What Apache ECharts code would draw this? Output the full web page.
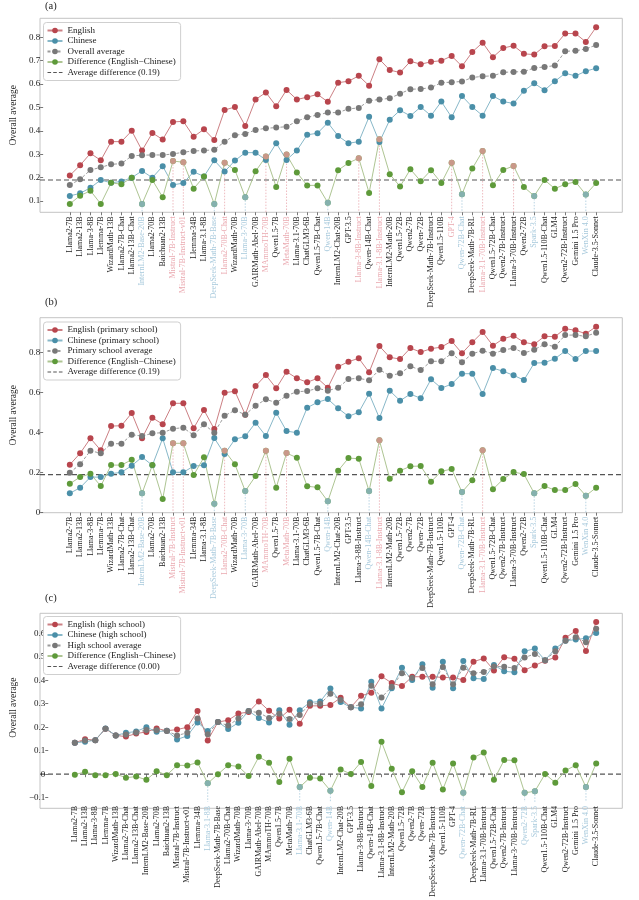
<!DOCTYPE html>
<html><head><meta charset="utf-8">
<script src="https://cdn.jsdelivr.net/npm/echarts@6.0.0/dist/echarts.min.js"></script>
<style>html,body{margin:0;padding:0;background:#fff}#c{width:639px;height:900px}</style>
</head><body><div id="c"></div>
<script>
const models = ["Llama2-7B","Llama2-13B","Llama-3-8B","Llemma-7B","WizardMath-13B","Llama2-7B-Chat","Llama2-13B-Chat","InternLM2-Base-20B","Llama2-70B","Baichuan2-13B","Mistral-7B-Instruct","Mistral-7B-Instruct-v01","Llemma-34B","Llama-3.1-8B","DeepSeek-Math-7B-Base","Llama2-70B-Chat","WizardMath-70B","Llama-3-70B","GAIRMath-Abel-70B","MAmmoTH-70B","Qwen1.5-7B","MetaMath-70B","Llama-3.1-70B","ChatGLM3-6B","Qwen1.5-7B-Chat","Qwen-14B","InternLM2-Chat-20B","GPT-3.5","Llama-3-8B-Instruct","Qwen-14B-Chat","Llama-3.1-8B-Instruct","InternLM2-Math-20B","Qwen1.5-72B","Qwen2-7B","Qwen-72B","DeepSeek-Math-7B-Instruct","Qwen1.5-110B","GPT-4","Qwen-72B-Chat","DeepSeek-Math-7B-RL","Llama-3.1-70B-Instruct","Qwen1.5-72B-Chat","Qwen2-7B-Instruct","Llama-3-70B-Instruct","Qwen2-72B","Spark-3.5","Qwen1.5-110B-Chat","GLM4","Qwen2-72B-Instruct","Gemini 1.5 Pro","WenXin 4.0","Claude-3.5-Sonnet"];

// ---- Panel (a): overall ----
const englishA = [0.209,0.253,0.304,0.274,0.354,0.354,0.400,0.316,0.391,0.363,0.438,0.441,0.375,0.407,0.361,0.489,0.502,0.421,0.534,0.564,0.505,0.575,0.534,0.544,0.556,0.524,0.606,0.612,0.635,0.593,0.706,0.660,0.649,0.697,0.685,0.695,0.700,0.720,0.676,0.737,0.777,0.715,0.754,0.764,0.729,0.726,0.762,0.763,0.816,0.816,0.780,0.843];
const chineseA = [0.122,0.133,0.157,0.190,0.178,0.184,0.200,0.229,0.200,0.249,0.169,0.177,0.225,0.205,0.274,0.226,0.273,0.307,0.307,0.276,0.347,0.276,0.316,0.383,0.390,0.435,0.378,0.347,0.354,0.460,0.352,0.447,0.488,0.464,0.502,0.465,0.525,0.458,0.549,0.502,0.465,0.549,0.525,0.517,0.571,0.603,0.574,0.612,0.646,0.635,0.655,0.668];
const averageA = [0.169,0.193,0.233,0.244,0.257,0.260,0.293,0.296,0.297,0.297,0.301,0.309,0.314,0.316,0.319,0.354,0.381,0.387,0.404,0.411,0.414,0.418,0.441,0.458,0.468,0.478,0.478,0.494,0.498,0.529,0.534,0.539,0.559,0.578,0.579,0.585,0.606,0.608,0.611,0.628,0.633,0.635,0.650,0.652,0.653,0.669,0.673,0.679,0.740,0.742,0.750,0.767];
const diffA = [0.088,0.123,0.144,0.088,0.178,0.172,0.200,0.088,0.190,0.116,0.271,0.266,0.153,0.205,0.088,0.264,0.233,0.116,0.227,0.290,0.160,0.299,0.222,0.167,0.167,0.093,0.232,0.263,0.283,0.135,0.364,0.215,0.162,0.236,0.185,0.232,0.177,0.264,0.129,0.239,0.314,0.168,0.233,0.250,0.160,0.122,0.190,0.153,0.172,0.182,0.128,0.177];
const avgDiffA = 0.19;
const highPosA = ["Mistral-7B-Instruct","Mistral-7B-Instruct-v01","Llama2-70B-Chat","MAmmoTH-70B","MetaMath-70B","Llama-3-8B-Instruct","Llama-3.1-8B-Instruct","GPT-4","Llama-3.1-70B-Instruct","Llama-3-70B-Instruct"];
const highNegA = ["InternLM2-Base-20B","DeepSeek-Math-7B-Base","Llama-3-70B","Qwen-14B","Qwen-72B-Chat","Spark-3.5","WenXin 4.0"];
const labelPosA = ["Mistral-7B-Instruct","Mistral-7B-Instruct-v01","Llama2-70B-Chat","MAmmoTH-70B","MetaMath-70B","Llama-3-8B-Instruct","Llama-3.1-8B-Instruct","GPT-4","Llama-3.1-70B-Instruct"];
const labelNegA = highNegA;

// ---- Panel (b): primary school ----
const englishB = [0.240,0.297,0.372,0.312,0.433,0.435,0.498,0.372,0.475,0.442,0.547,0.547,0.422,0.513,0.418,0.600,0.607,0.490,0.633,0.688,0.622,0.705,0.672,0.652,0.672,0.625,0.730,0.755,0.772,0.702,0.833,0.777,0.768,0.823,0.803,0.820,0.828,0.858,0.797,0.852,0.903,0.835,0.870,0.885,0.852,0.842,0.882,0.880,0.920,0.912,0.895,0.930];
const chineseB = [0.097,0.125,0.178,0.178,0.195,0.202,0.235,0.278,0.237,0.372,0.202,0.202,0.233,0.237,0.373,0.293,0.367,0.382,0.450,0.383,0.500,0.408,0.400,0.525,0.552,0.568,0.522,0.482,0.502,0.595,0.473,0.610,0.560,0.593,0.572,0.667,0.623,0.643,0.695,0.695,0.593,0.723,0.707,0.687,0.663,0.748,0.750,0.770,0.808,0.768,0.808,0.808];
const averageB = [0.200,0.242,0.310,0.297,0.345,0.345,0.390,0.383,0.397,0.400,0.420,0.425,0.387,0.442,0.400,0.485,0.512,0.490,0.535,0.567,0.550,0.585,0.605,0.608,0.622,0.610,0.625,0.668,0.672,0.662,0.715,0.685,0.697,0.732,0.713,0.757,0.757,0.797,0.752,0.795,0.810,0.795,0.813,0.823,0.798,0.815,0.842,0.830,0.888,0.888,0.882,0.900];
const diffB = [0.145,0.178,0.195,0.133,0.238,0.238,0.265,0.097,0.238,0.068,0.347,0.347,0.188,0.277,0.045,0.310,0.242,0.108,0.183,0.310,0.125,0.298,0.275,0.132,0.127,0.057,0.210,0.273,0.270,0.108,0.362,0.170,0.210,0.232,0.233,0.155,0.207,0.218,0.103,0.162,0.312,0.117,0.168,0.203,0.193,0.097,0.133,0.113,0.113,0.143,0.085,0.125];
const avgDiffB = 0.19;
const highPosB = ["Mistral-7B-Instruct","Mistral-7B-Instruct-v01","Llama2-70B-Chat","MAmmoTH-70B","MetaMath-70B","Llama-3.1-8B-Instruct","Llama-3.1-70B-Instruct"];
const highNegB = ["InternLM2-Base-20B","DeepSeek-Math-7B-Base","Llama-3-70B","Qwen-14B","Qwen-14B-Chat","Qwen-72B-Chat","Spark-3.5","WenXin 4.0"];

// ---- Panel (c): high school ----
const englishC = [0.134,0.149,0.145,0.193,0.165,0.160,0.173,0.180,0.195,0.185,0.190,0.200,0.269,0.144,0.222,0.230,0.258,0.265,0.310,0.270,0.237,0.274,0.215,0.291,0.291,0.295,0.325,0.285,0.334,0.347,0.417,0.388,0.375,0.415,0.415,0.415,0.412,0.412,0.401,0.479,0.493,0.442,0.498,0.491,0.443,0.463,0.483,0.497,0.581,0.610,0.524,0.648];
const chineseC = [0.134,0.138,0.145,0.195,0.165,0.176,0.182,0.200,0.181,0.185,0.148,0.163,0.220,0.184,0.222,0.192,0.219,0.269,0.239,0.220,0.272,0.211,0.272,0.306,0.309,0.365,0.307,0.285,0.280,0.394,0.280,0.366,0.453,0.401,0.468,0.368,0.479,0.366,0.482,0.408,0.405,0.465,0.438,0.434,0.523,0.535,0.485,0.535,0.568,0.573,0.579,0.601];
const averageC = [0.134,0.143,0.145,0.194,0.165,0.169,0.178,0.188,0.187,0.184,0.165,0.176,0.237,0.170,0.222,0.207,0.237,0.269,0.262,0.239,0.257,0.235,0.252,0.300,0.300,0.342,0.316,0.285,0.298,0.377,0.327,0.372,0.430,0.410,0.452,0.383,0.456,0.383,0.453,0.430,0.435,0.459,0.457,0.452,0.497,0.512,0.485,0.523,0.568,0.583,0.562,0.619];
const diffC = [-0.002,0.010,-0.004,-0.004,0.001,-0.015,-0.010,-0.024,0.013,-0.004,0.038,0.037,0.050,-0.039,0.000,0.038,0.033,-0.008,0.074,0.049,-0.033,0.066,-0.055,-0.015,-0.018,-0.070,0.020,0.001,0.052,-0.050,0.138,0.023,-0.077,0.013,-0.054,0.049,-0.065,0.046,-0.079,0.071,0.092,-0.024,0.060,0.059,-0.079,-0.073,0.001,-0.036,0.016,0.038,-0.055,0.046];
const avgDiffC = 0.00;
const highPosC = [];
const highNegC = ["Llama-3.1-8B","Llama-3.1-70B","Qwen-14B","Qwen-72B-Chat","Qwen2-72B","Spark-3.5","WenXin 4.0"];

const FONT = '"Liberation Serif","Times New Roman",serif';
const C = {
  red:'#b8454d', redLine:'#cc8084',
  blue:'#4a8fa8', blueLine:'#88b8c9',
  gray:'#787878', grayLine:'#9c9c9c',
  green:'#5e9a3a', greenLine:'#aec593',
  pink:'#e3979d', lblue:'#8fb7cc',
  pinkLabel:'#eaa9b0', blueLabel:'#a7c9dc', text:'#222'
};
// dashed-line legend glyph (15 x 7 box, three dashes in the middle)
const DASH_ICON = 'path://M0,0h0.01v0.01h-0.01z M14.99,6.99h0.01v0.01h-0.01z M0,2.9h3.6v1.2h-3.6z M5.7,2.9h3.6v1.2h-3.6z M11.4,2.9h3.6v1.2h-3.6z';

const FRAME_L = 40, FRAME_R = 622.3;
const panels = [
  {tag:'(a)', en:englishA, zh:chineseA, avg:averageA, diff:diffA, avgDiff:avgDiffA,
   names:['English','Chinese','Overall average'], pos:highPosA, neg:highNegA, lpos:labelPosA, lneg:labelNegA,
   top:18.3, height:194, min:0.052, max:0.881, split:8, legendTop:22.5, tagTop:0.5},
  {tag:'(b)', en:englishB, zh:chineseB, avg:averageB, diff:diffB, avgDiff:avgDiffB,
   names:['English (primary school)','Chinese (primary school)','Primary school average'], pos:highPosB, neg:highNegB, lpos:highPosB, lneg:highNegB,
   top:317.7, height:195, min:0, max:0.975, interval:0.2, legendTop:322, tagTop:296.5},
  {tag:'(c)', en:englishC, zh:chineseC, avg:averageC, diff:diffC, avgDiff:avgDiffC,
   names:['English (high school)','Chinese (high school)','High school average'], pos:highPosC, neg:highNegC, lpos:highPosC, lneg:highNegC,
   top:613.3, height:195, min:-0.118, max:0.685, split:8, legendTop:616.5, tagTop:592.5}
];

const chart = echarts.init(document.getElementById('c'), null, {renderer:'canvas'});
const grid = [], xAxis = [], yAxis = [], legend = [], series = [];

function dropRender(color){
  return function(params, api){
    const p = api.coord([api.value(0), api.value(1)]);
    const cs = params.coordSys;
    return {type:'line', shape:{x1:p[0], y1:p[1], x2:p[0], y2:cs.y + cs.height},
      style:{stroke:color, lineWidth:0.8, lineDash:[1.5,1.5]}};
  };
}
function fmt(v){ if (Math.abs(v) < 1e-9) return '0'; return (v < 0 ? '\u2212' : '') + Math.abs(v).toFixed(1); }

panels.forEach((p, k) => {
  grid.push({left:61.5, right:37.7, top:p.top, height:p.height, containLabel:false});
  const lp = new Set(p.lpos), ln = new Set(p.lneg);
  xAxis.push({type:'category', gridIndex:k, data:models, boundaryGap:true,
    axisLine:{show:false},
    axisTick:{show:true, alignWithLabel:true, length:3, lineStyle:{color:'#555', width:0.8}},
    axisLabel:{rotate:90, interval:0, fontSize:8, fontFamily:FONT, margin:4,
      color:(v)=> lp.has(v) ? C.pinkLabel : (ln.has(v) ? C.blueLabel : C.text)},
    splitLine:{show:false}});
  const yA = {type:'value', gridIndex:k, min:p.min, max:p.max, offset:21.5,
    axisLine:{show:false},
    axisTick:{show:true, length:3, lineStyle:{color:'#555', width:0.8}},
    axisLabel:{fontSize:9, fontFamily:FONT, color:C.text, margin:3, formatter:fmt,
      showMinLabel: p.interval ? true : false, showMaxLabel:false},
    splitLine:{show:false},
    name:'Overall average', nameLocation:'middle', nameGap:16,
    nameTextStyle:{fontSize:9.5, fontFamily:FONT, color:C.text}};
  if (p.interval) yA.interval = p.interval;
  if (p.split) yA.splitNumber = p.split;
  yAxis.push(yA);
  const avgName = 'Average difference (' + p.avgDiff.toFixed(2) + ')';
  const diffName = 'Difference (English\u2212Chinese)';
  legend.push({orient:'vertical', left:43.5, top:p.legendTop, selectedMode:false,
    data:[p.names[0], p.names[1], p.names[2], diffName, {name:avgName, icon:DASH_ICON}],
    itemWidth:15, itemHeight:7, itemGap:0.5, padding:[3,5,3,3],
    borderColor:'#cfcfcf', borderWidth:1, borderRadius:3, backgroundColor:'#fff',
    textStyle:{fontSize:9, fontFamily:FONT, color:C.text, lineHeight:10}});
  const base = {type:'line', xAxisIndex:k, yAxisIndex:k, symbol:'circle', symbolSize:6, animation:false};
  series.push(Object.assign({}, base, {name:p.names[0], data:p.en, itemStyle:{color:C.red}, lineStyle:{color:C.redLine, width:1}}));
  series.push(Object.assign({}, base, {name:p.names[1], data:p.zh, itemStyle:{color:C.blue}, lineStyle:{color:C.blueLine, width:1}}));
  series.push(Object.assign({}, base, {name:p.names[2], data:p.avg, itemStyle:{color:C.gray}, lineStyle:{color:C.grayLine, width:1, type:[3,2]}}));
  series.push(Object.assign({}, base, {name:diffName, data:p.diff, itemStyle:{color:C.green}, lineStyle:{color:C.greenLine, width:1}}));
  series.push({type:'line', name:avgName, xAxisIndex:k, yAxisIndex:k, data:[], symbol:'none', showSymbol:false,
    itemStyle:{color:'#555'}, lineStyle:{color:'#555', width:1.2, type:[5,3]}});
  const posData = p.pos.map(n => [models.indexOf(n), p.diff[models.indexOf(n)]]);
  const negData = p.neg.map(n => [models.indexOf(n), p.diff[models.indexOf(n)]]);
  series.push({type:'custom', xAxisIndex:k, yAxisIndex:k, data:posData, renderItem:dropRender(C.pinkLabel), silent:true, z:1});
  series.push({type:'custom', xAxisIndex:k, yAxisIndex:k, data:negData, renderItem:dropRender(C.blueLabel), silent:true, z:1});
  series.push({type:'scatter', xAxisIndex:k, yAxisIndex:k, data:posData, symbolSize:6, itemStyle:{color:C.pink}, z:4});
  series.push({type:'scatter', xAxisIndex:k, yAxisIndex:k, data:negData, symbolSize:6, itemStyle:{color:C.lblue}, z:4});
});

chart.setOption({animation:false, backgroundColor:'#fff', grid, xAxis, yAxis, legend, series});

const graphic = [];
panels.forEach((p, k) => {
  graphic.push({type:'rect', z:-1, shape:{x:FRAME_L, y:p.top, width:FRAME_R-FRAME_L, height:p.height},
    style:{fill:'none', stroke:'#c4c4c4', lineWidth:1}});
  const y = chart.convertToPixel({yAxisIndex:k}, p.avgDiff);
  graphic.push({type:'line', z:0, shape:{x1:FRAME_L, y1:y, x2:FRAME_R, y2:y},
    style:{stroke:'#555', lineWidth:1.2, lineDash:[5,3]}});
  graphic.push({type:'text', left:45, top:p.tagTop, style:{text:p.tag, font:'10.5px ' + FONT, fill:C.text}});
});
chart.setOption({graphic});
</script></body></html>
